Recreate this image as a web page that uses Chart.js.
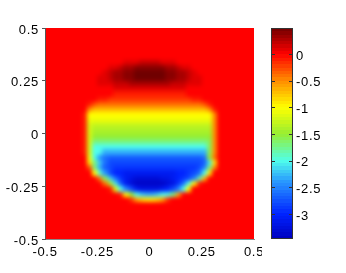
<!DOCTYPE html>
<html>
<head>
<meta charset="utf-8">
<script src="https://cdn.jsdelivr.net/npm/chart.js"></script>
<style>
  html, body { margin: 0; padding: 0; background: #fff; }
  #wrap { position: relative; width: 346px; height: 273px; }
  #main { position: absolute; left: 0; top: 0; }
  #bar { position: absolute; left: 262px; top: 0; }
</style>
</head>
<body>
<div id="wrap">
  <canvas id="main" width="262" height="273"></canvas>
  <canvas id="bar" width="84" height="273"></canvas>
</div>
<script>
// field: 40 x 40 cells, rows from y=0.5 (top) down to y=-0.5,
// run-length coded ("12." = 12 cells of '.'), '.' = 0, letters A..n = -3.4 .. 0.5 in 0.1 steps
const levelChars = 'ABCDEFGHIJKLMNOPQRSTUVWXYZabcdefghijklmn';
const fieldRows = [
  '40.', '40.', '40.', '40.', '40.', '40.',
  '15.3j4k3j15.',
  '12.2jk2l6m2lk2j12.',
  '11.jk2l2m6n2m2lkj11.',
  '10.2jk2l2m6n2m2lk2j10.',
  '10.3j3k8l3k3j10.',
  '13.14j13.',
  '13.14h13.',
  '10.2h16g2h10.',
  '8.hf20efh8.',
  '8.d22bdh7.',
  '7.h24Yd7.',
  '7.h24Xd7.',
  '7.hW23Vd7.',
  '7.hW23Ud7.',
  '7.hW23Td7.',
  '7.hW22RSd7.',
  '7.hW22OSd7.',
  '7.hW2O20LSd7.',
  '8.XOKI18HITe7.',
  '8.ZRMI18GHNZ7.',
  '8.fRLHG16FGJRd7.',
  '9.YPKG2E10D2EFGIOZ8.',
  '10.eSMIFDC5B2CDEFGJQb9.',
  '11.eUNHDB6ABCFIOYh10.',
  '12.hWOJGD4CDEGJOY12.',
  '14.hYTOM2LM2ORc14.',
  '16.gca2Zacg16.',
  '40.', '40.', '40.', '40.', '40.', '40.', '40.'
];
const xRange = [-0.5, 0.5];
const yRange = [-0.5, 0.5];
const xTicks = [-0.5, -0.25, 0, 0.25, 0.5];
const yTicks = [-0.5, -0.25, 0, 0.25, 0.5];
const cbRange = [-3.47, 0.49];
const cbTicks = [0, -0.5, -1, -1.5, -2, -2.5, -3];

// colour map (value -> rgb), jet-like as in the colour bar
const cmap = [
  [-3.47, [0, 0, 190]],
  [-3.0, [0, 35, 255]],
  [-2.4, [40, 150, 255]],
  [-2.0, [80, 255, 235]],
  [-1.5, [150, 238, 50]],
  [-1.0, [255, 255, 0]],
  [-0.5, [255, 140, 0]],
  [0.0, [255, 0, 0]],
  [0.49, [112, 0, 0]]
];

function colorFor(v) {
  if (v <= cmap[0][0]) return 'rgb(' + cmap[0][1].join(',') + ')';
  for (let k = 1; k < cmap.length; k++) {
    if (v <= cmap[k][0]) {
      const [a, ca] = cmap[k - 1], [b, cb] = cmap[k];
      const t = (v - a) / (b - a);
      const c = ca.map((q, n) => Math.round(q + (cb[n] - q) * t));
      return 'rgb(' + c.join(',') + ')';
    }
  }
  return 'rgb(' + cmap[cmap.length - 1][1].join(',') + ')';
}

function decodeRow(s, nCols) {
  const out = [];
  s.replace(/(\d*)(\D)/g, (m, n, c) => {
    const v = c === '.' ? 0 : -3.4 + 0.1 * levelChars.indexOf(c);
    for (let k = 0; k < (n ? +n : 1); k++) out.push(v);
  });
  while (out.length < nCols) out.push(0);
  return out.slice(0, nCols);
}

const nRows = fieldRows.length, nCols = 40;
const cellW = (xRange[1] - xRange[0]) / nCols;
const cellH = (yRange[1] - yRange[0]) / nRows;
const cells = [];
fieldRows.forEach((row, i) => {
  decodeRow(row, nCols).forEach((v, j) => {
    cells.push({ x: xRange[0] + (j + 0.5) * cellW, y: yRange[1] - (i + 0.5) * cellH, v: v });
  });
});

Chart.defaults.font.family = "'Liberation Sans', Arial, sans-serif";
Chart.defaults.font.size = 13;
Chart.defaults.color = '#000';

const textSpacing = {
  id: 'textSpacing',
  beforeDraw(chart) { chart.ctx.letterSpacing = '0.7px'; }
};

// cells are placed with the x/y scales; a blurred copy on top gives the smooth shading
const heatmap = {
  id: 'heatmap',
  beforeDraw(chart) {
    const { ctx, chartArea: a, scales: { x, y } } = chart;
    const off = document.createElement('canvas');
    off.width = chart.width;
    off.height = chart.height;
    const octx = off.getContext('2d');
    chart.data.datasets[0].data.forEach(p => {
      const x0 = Math.round(x.getPixelForValue(p.x - cellW / 2));
      const x1 = Math.round(x.getPixelForValue(p.x + cellW / 2));
      const y0 = Math.round(y.getPixelForValue(p.y + cellH / 2));
      const y1 = Math.round(y.getPixelForValue(p.y - cellH / 2));
      octx.fillStyle = colorFor(p.v);
      octx.fillRect(x0, y0, x1 - x0, y1 - y0);
    });
    ctx.save();
    ctx.beginPath();
    ctx.rect(a.left, a.top, a.width, a.height);
    ctx.clip();
    ctx.drawImage(off, 0, 0);
    ctx.filter = 'blur(2px)';
    ctx.drawImage(off, 0, 0);
    ctx.restore();
  }
};

new Chart(document.getElementById('main'), {
  type: 'scatter',
  data: { datasets: [{ data: cells, pointRadius: 0, pointHoverRadius: 0 }] },
  options: {
    responsive: false,
    animation: false,
    devicePixelRatio: 1,
    layout: { padding: { top: 28, right: 8, left: 0, bottom: 0 } },
    plugins: { legend: { display: false }, tooltip: { enabled: false } },
    scales: {
      x: {
        type: 'linear', min: xRange[0], max: xRange[1],
        afterFit: s => { s.height = 34; s.paddingLeft = 0; s.paddingRight = 0; },
        afterBuildTicks: s => { s.ticks = xTicks.map(v => ({ value: v })); },
        ticks: { padding: 6, autoSkip: false, maxRotation: 0, callback: v => String(v) },
        grid: { display: false, drawTicks: false },
        border: { display: true, color: '#8a8a8a', width: 1, dash: [2, 2] }
      },
      y: {
        type: 'linear', min: yRange[0], max: yRange[1],
        afterFit: s => { s.width = 45; s.paddingTop = 0; s.paddingBottom = 0; },
        afterBuildTicks: s => { s.ticks = yTicks.map(v => ({ value: v })); },
        ticks: { padding: 3, labelOffset: 2, autoSkip: false, callback: v => String(v) },
        grid: { display: true, drawOnChartArea: false, drawTicks: true, tickLength: 3, color: '#555' },
        border: { display: true, color: '#555', width: 1 }
      }
    }
  },
  plugins: [textSpacing, heatmap]
});

const colorbar = {
  id: 'colorbar',
  beforeDraw(chart) {
    const { ctx, chartArea: a, scales: { y } } = chart;
    const n = 64, lo = cbRange[0], hi = cbRange[1];
    for (let k = 0; k < n; k++) {
      const v0 = lo + (hi - lo) * k / n, v1 = lo + (hi - lo) * (k + 1) / n;
      const p0 = Math.round(y.getPixelForValue(v0)), p1 = Math.round(y.getPixelForValue(v1));
      ctx.fillStyle = colorFor((v0 + v1) / 2);
      ctx.fillRect(a.left, p1, a.width, p0 - p1);
    }
  },
  afterDraw(chart) {
    const { ctx, chartArea: a, scales: { y } } = chart;
    ctx.save();
    ctx.strokeStyle = '#333';
    ctx.lineWidth = 1;
    ctx.strokeRect(a.left + 0.5, a.top + 0.5, a.width - 1, a.height - 1);
    cbTicks.forEach(v => {
      const py = Math.round(y.getPixelForValue(v)) + 0.5;
      ctx.beginPath();
      ctx.moveTo(a.left, py); ctx.lineTo(a.left + 4, py);
      ctx.moveTo(a.right - 4, py); ctx.lineTo(a.right, py);
      ctx.stroke();
    });
    ctx.restore();
  }
};

new Chart(document.getElementById('bar'), {
  type: 'scatter',
  data: { datasets: [{ data: [] }] },
  options: {
    responsive: false,
    animation: false,
    devicePixelRatio: 1,
    layout: { padding: { top: 28, right: 0, left: 9, bottom: 34 } },
    plugins: { legend: { display: false }, tooltip: { enabled: false } },
    scales: {
      x: { display: false, min: 0, max: 1 },
      y: {
        type: 'linear', position: 'right', min: cbRange[0], max: cbRange[1],
        afterFit: s => { s.width = 53; s.paddingTop = 0; s.paddingBottom = 0; },
        afterBuildTicks: s => { s.ticks = cbTicks.map(v => ({ value: v })); },
        ticks: { padding: 3, labelOffset: 2, autoSkip: false, callback: v => String(v) },
        grid: { display: false, drawTicks: false },
        border: { display: false }
      }
    }
  },
  plugins: [textSpacing, colorbar]
});
</script>
</body>
</html>
